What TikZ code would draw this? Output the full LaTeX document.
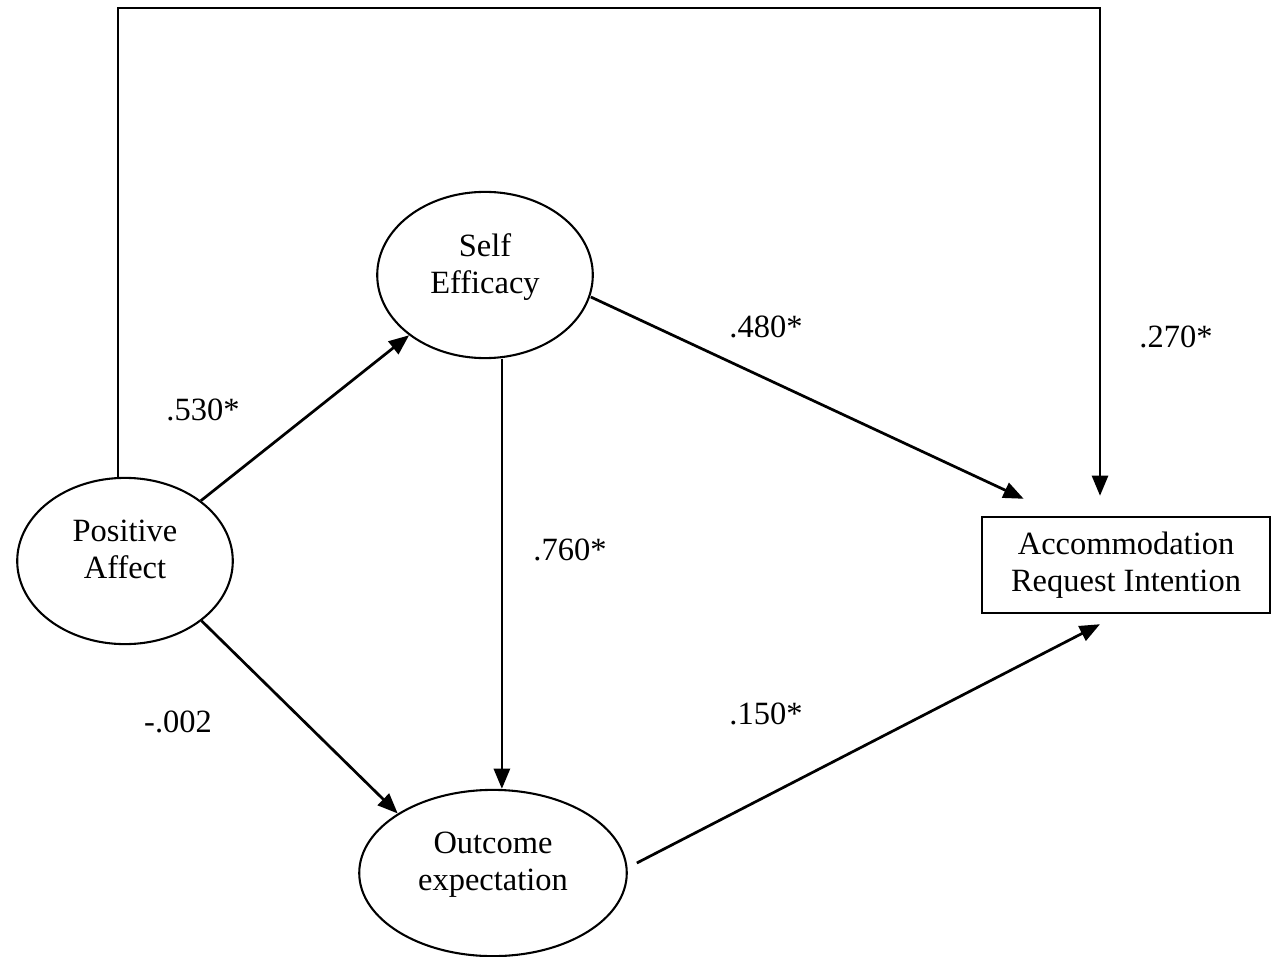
\documentclass[tikz,border=0pt]{standalone}
\usepackage{fontspec}
\setmainfont{Liberation Serif}
\usetikzlibrary{arrows.meta,shapes.geometric}

\begin{document}
\begin{tikzpicture}[x=0.385pt, y=-0.385pt,
                    font=\fontsize{12.5}{14.2}\selectfont,
                    VAR/.style={ellipse, draw, line width=0.8pt, minimum width=83pt, minimum height=64pt, inner sep=0pt, text depth=9pt, align=center},
                    OBS/.style={rectangle, draw, line width=0.9pt, minimum width=111pt, minimum height=37pt, align=center},
                    PATH/.style={-{Triangle[length=7.8pt,width=6.2pt]}, line width=1.05pt},
                ]
                \useasboundingbox (0,0) rectangle (1272,957);

                \node[VAR]    (PA)      at (125,561)  {Positive\\Affect};
                \node[VAR]    (SE)      at (485,275)  {Self\\Efficacy};
                \node[VAR, minimum width=103pt]    (OE)      at (493,873)  {Outcome\\expectation};
                \node[OBS]    (ARI)     at (1126,565) {Accommodation\\Request Intention};
                \coordinate   (TopR)    at (1100,8);

                \draw[PATH] (PA) -- (SE);
                \draw[PATH] (PA.-38) -- (OE.148);
                \draw[PATH] ([xshift=6.5pt]SE.south) -- ([xshift=6.5pt]SE.south |- OE.north);
                \draw[PATH] ([shift={(-3,22)}]SE.east) -- ([shift={(43,-17)}]ARI.north west);
                \draw[PATH] ([shift={(9,-10)}]OE.east) -- ([shift={(-26,10)}]ARI.south);
                \draw[PATH] ([xshift=-2.7pt]PA.north) |- (TopR) -- ([shift={(-26,-20)}]ARI.north);

                \node (c_PA_SE)   at (203,410)  {.530*};
                \node (c_PA_OE)   at (178,722)  {-.002};
                \node (c_SE_OE)   at (570,550)  {.760*};
                \node (c_SE_ARI)  at (766,327)  {.480*};
                \node (c_OE_ARI)  at (766,714)  {.150*};
                \node (c_PA_ARI)  at (1176,337) {.270*};

            \end{tikzpicture}
\end{document}
